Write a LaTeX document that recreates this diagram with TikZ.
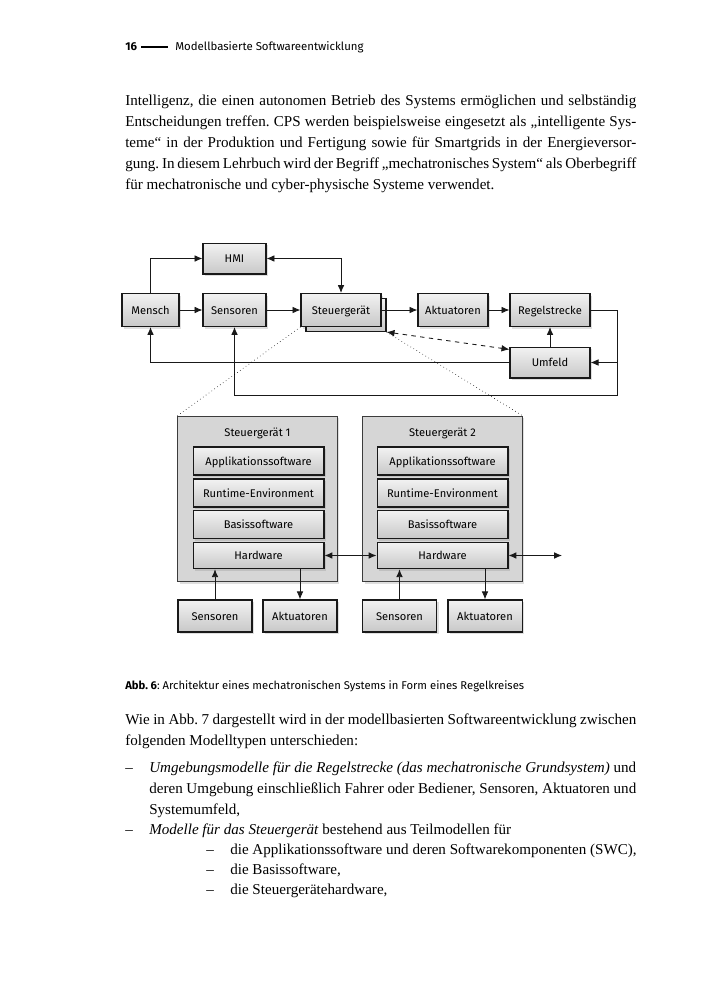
\documentclass[tikz,border=0pt]{standalone}
\usepackage{fontspec}
\setmainfont{Liberation Serif}
\setsansfont{Fira Sans}
\usetikzlibrary{shapes,arrows,arrows.meta,positioning,calc,shadows}
\definecolor{boxtop}{RGB}{242,242,242}
\definecolor{boxbottom}{RGB}{200,200,200}
\definecolor{ecufill}{RGB}{214,214,214}
\definecolor{linecolor}{RGB}{25,25,25}
\frenchspacing

% one printed line of the page, stretched to the given width
\newcommand{\jline}[4]{\node[txt] (#1) at (#2) {\makebox[#3][s]{#4}};}

\begin{document}
\begin{tikzpicture}[x=0.024cm, y=-0.024cm,
                box/.style={rectangle, draw=linecolor, line width=0.8pt, top color=boxtop, bottom color=boxbottom,
                            minimum height=0.79cm, font=\sffamily\fontsize{7.6}{9}\selectfont, text height=1.55ex, text depth=0.3ex,
                            drop shadow={opacity=0.25, shadow xshift=0.05cm, shadow yshift=-0.05cm}},
                ecu/.style={rectangle, draw=linecolor!85, line width=0.6pt, fill=ecufill, minimum width=3.82cm, minimum height=3.98cm,
                            drop shadow={opacity=0.25, shadow xshift=0.05cm, shadow yshift=-0.05cm}},
                layer/.style={box, minimum width=3.14cm, minimum height=0.67cm},
                arrow/.style={->, >={Latex[length=1.9mm, width=1.6mm]}, line width=0.6pt, draw=linecolor},
                txt/.style={anchor=base west, inner sep=0pt, font=\fontsize{10.3}{12}\selectfont},
                stxt/.style={anchor=base west, inner sep=0pt, font=\sffamily\fontsize{7.7}{9}\selectfont}]

                \useasboundingbox[fill=white] (0,0) rectangle (708,1000);

                % Header
                \node[stxt, font=\sffamily\fontsize{7.8}{9}\selectfont] (pnum) at (125,51) {\textbf{16}};
                \node[stxt, font=\sffamily\fontsize{7.8}{9}\selectfont] (htitle) at (175,51) {Modellbasierte Softwareentwicklung};
                \draw[line width=1.1pt] ([xshift=0.1cm]pnum.east |- 0,47) -- ([xshift=-0.16cm]htitle.west |- 0,47);

                % Text above
                \jline{pa1}{125,105}{12.264cm}{Intelligenz, die einen autonomen Betrieb des Systems ermöglichen und selbständig}
                \jline{pa2}{125,126}{12.264cm}{Entscheidungen treffen. CPS werden beispielsweise eingesetzt als „intelligente Sys-}
                \jline{pa3}{125,147}{12.264cm}{teme“ in der Produktion und Fertigung sowie für Smartgrids in der Energieversor-}
                \jline{pa4}{125,168}{12.264cm}{gung. In diesem Lehrbuch wird der Begriff „mechatronisches System“ als Oberbegriff}
                \node[txt] (pa5) at (125,189) {für mechatronische und cyber-physische Systeme verwendet.};

                % Control loop
                \node[box, minimum width=1.51cm, minimum height=0.74cm] (hmi) at (234.5,258.5) {HMI};
                \node[box, minimum width=1.37cm] (mensch) at (150.5,310) {Mensch};
                \node[box, minimum width=1.51cm] (sensoren) at (234.5,310) {Sensoren};
                \node[box, minimum width=1.92cm,
                      copy shadow={shadow xshift=0.12cm, shadow yshift=-0.12cm, draw=linecolor, line width=0.8pt, top color=boxtop, bottom color=boxbottom}] (sg) at (341,310) {Steuergerät};
                \node[box, minimum width=1.68cm] (aktuatoren) at (453,310) {Aktuatoren};
                \node[box, minimum width=1.92cm] (regel) at (550,310) {Regelstrecke};
                \node[box, minimum width=1.92cm, minimum height=0.74cm] (umfeld) at (550,362.5) {Umfeld};

                \coordinate (sgback) at ($(sg.south east)+(0.12cm,-0.12cm)$);
                \coordinate (loopR) at (617,395);

                \draw[arrow] (mensch.north) |- (hmi.west);
                \draw[arrow, <->] (hmi.east) -| (sg.north);
                \draw[arrow] (mensch) -- (sensoren);
                \draw[arrow] (sensoren) -- (sg);
                \draw[arrow] (sg) -- (aktuatoren);
                \draw[arrow] (aktuatoren) -- (regel);
                \draw[arrow] (umfeld) -- (regel);
                \draw[arrow] (regel.east) -| (loopR) -| (sensoren.south);
                \draw[arrow] (loopR |- umfeld.east) -- (umfeld.east);
                \draw[arrow] (umfeld.west) -| (mensch.south);
                \draw[arrow, <->, dashed] (sgback) -- ([yshift=-0.07cm]umfeld.north west);

                % Two control units
                \node[ecu] (sg1) at (257.5,499) {};
                \node[ecu] (sg2) at (442.5,499) {};
                \node[font=\sffamily\fontsize{7.6}{9}\selectfont] (sg1t) at (257.5,433) {Steuergerät 1};
                \node[font=\sffamily\fontsize{7.6}{9}\selectfont] (sg2t) at (442.5,433) {Steuergerät 2};

                \draw[dotted] (sg.south west) -- (sg1.north west);
                \draw[dotted] (sgback) -- (sg2.north east);

                \node[layer] (app1) at (258.5,461) {Applikationssoftware};
                \node[layer] (rte1) at (258.5,493) {Runtime-Environment};
                \node[layer] (bsw1) at (258.5,524.5) {Basissoftware};
                \node[layer, minimum height=0.63cm] (hw1) at (258.5,555.5) {Hardware};
                \node[layer] (app2) at (442.5,461) {Applikationssoftware};
                \node[layer] (rte2) at (442.5,493) {Runtime-Environment};
                \node[layer] (bsw2) at (442.5,524.5) {Basissoftware};
                \node[layer, minimum height=0.63cm] (hw2) at (442.5,555.5) {Hardware};

                \node[box, minimum width=1.78cm, minimum height=0.77cm] (sen1) at (215,616) {Sensoren};
                \node[box, minimum width=1.78cm, minimum height=0.77cm] (akt1) at (300,616) {Aktuatoren};
                \node[box, minimum width=1.78cm, minimum height=0.77cm] (sen2) at (399.5,616) {Sensoren};
                \node[box, minimum width=1.78cm, minimum height=0.77cm] (akt2) at (485,616) {Aktuatoren};

                \coordinate (bus) at (562,555.5);
                \draw[arrow] (sen1.north) -- (sen1.north |- hw1.south);
                \draw[arrow] (akt1.north |- hw1.south) -- (akt1.north);
                \draw[arrow] (sen2.north) -- (sen2.north |- hw2.south);
                \draw[arrow] (akt2.north |- hw2.south) -- (akt2.north);
                \draw[arrow, <->] (hw1.east) -- (hw2.west);
                \draw[arrow, <->] (hw2.east) -- (bus);

                % Caption
                \node[stxt] (cap) at (125,689) {\textbf{Abb. 6}: Architektur eines mechatronischen Systems in Form eines Regelkreises};

                % Text below
                \jline{pb1}{125,724}{12.264cm}{Wie in Abb. 7 dargestellt wird in der modellbasierten Softwareentwicklung zwischen}
                \node[txt] (pb2) at (125,745) {folgenden Modelltypen unterschieden:};
                \node[txt] (d1) at (125,772) {–};
                \jline{pb3}{149,772}{11.688cm}{\textit{Umgebungsmodelle für die Regelstrecke (das mechatronische Grundsystem)} und}
                \jline{pb4}{149,793}{11.688cm}{deren Umgebung einschließlich Fahrer oder Bediener, Sensoren, Aktuatoren und}
                \node[txt] (pb5) at (149,814) {Systemumfeld,};
                \node[txt] (d2) at (125,834) {–};
                \node[txt] (pb6) at (149,834) {\textit{Modelle für das Steuergerät} bestehend aus Teilmodellen für};
                \node[txt] (d3) at (206,854) {–};
                \node[txt] (pb7) at (230,854) {die Applikationssoftware und deren Softwarekomponenten (SWC),};
                \node[txt] (d4) at (206,874) {–};
                \node[txt] (pb8) at (230,874) {die Basissoftware,};
                \node[txt] (d5) at (206,894) {–};
                \node[txt] (pb9) at (230,894) {die Steuergerätehardware,};

            \end{tikzpicture}
\end{document}
